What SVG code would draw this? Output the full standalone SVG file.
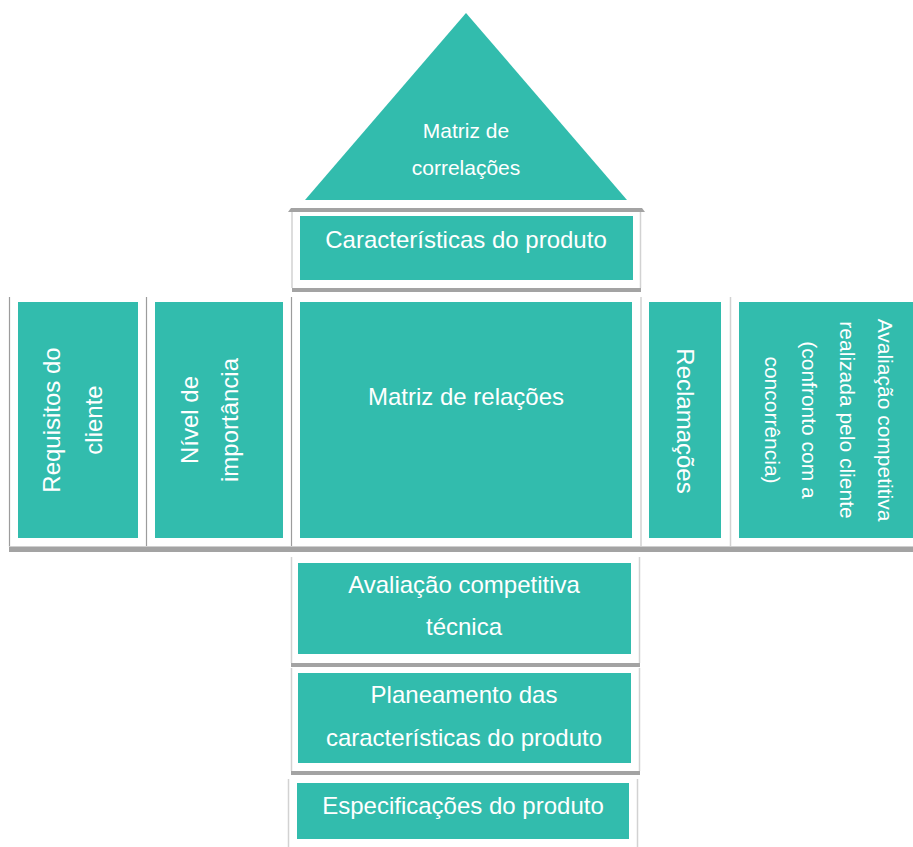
<svg xmlns="http://www.w3.org/2000/svg" width="913" height="847" viewBox="0 0 913 847">
  <style>
    .cell { fill: #32bcad; }
    .lbl { fill: #ffffff; font-family: "Liberation Sans", Arial, sans-serif; font-size: 24px; text-anchor: middle; }
    .sm { font-size: 21px; }
    .band { fill: #a3a3a3; }
    .band-hi { fill: #cfcfcf; }
    .rule { stroke: #9c9c9c; stroke-width: 1.2; fill: none; }
    .rule-lt { stroke: #d2d2d2; stroke-width: 1.5; fill: none; }
  </style>

  <rect width="913" height="847" fill="#ffffff"/>

  <!-- table borders -->
  <g id="borders">
    <!-- roof ledge -->
    <polygon class="band" points="291,208 642,208 645,212 288,212"/>
    <line class="rule-lt" x1="292" y1="212" x2="292" y2="288"/>
    <line class="rule-lt" x1="640.5" y1="212" x2="640.5" y2="288"/>
    <rect class="band" x="292" y="288" width="349" height="4"/>

    <!-- main row -->
    <line class="rule" x1="9.5" y1="297" x2="9.5" y2="547"/>
    <line class="rule" x1="146.5" y1="297" x2="146.5" y2="547"/>
    <line class="rule" x1="291.5" y1="297" x2="291.5" y2="547"/>
    <line class="rule-lt" x1="641" y1="297" x2="641" y2="547"/>
    <line class="rule-lt" x1="730.5" y1="297" x2="730.5" y2="547"/>
    <rect class="band-hi" x="9" y="546" width="904" height="1"/>
    <rect class="band" x="9" y="547" width="904" height="5"/>

    <!-- lower floors -->
    <line class="rule-lt" x1="291.5" y1="557" x2="291.5" y2="663"/>
    <line class="rule-lt" x1="639.5" y1="557" x2="639.5" y2="663"/>
    <rect class="band" x="291" y="663" width="349" height="4"/>
    <line class="rule-lt" x1="291.5" y1="668" x2="291.5" y2="771"/>
    <line class="rule-lt" x1="639.5" y1="668" x2="639.5" y2="771"/>
    <rect class="band" x="291" y="771" width="349" height="4"/>
    <line class="rule-lt" x1="288.5" y1="779" x2="288.5" y2="847"/>
    <line class="rule-lt" x1="637.5" y1="779" x2="637.5" y2="847"/>
  </g>

  <g id="matriz-correlacoes">
    <polygon class="cell" points="466,13 627,200 305,200"/>
    <text class="lbl sm" x="466" y="138">Matriz de</text>
    <text class="lbl sm" x="466" y="175">correlações</text>
  </g>

  <g id="caracteristicas">
    <rect class="cell" x="300" y="216" width="333" height="64"/>
    <text class="lbl" x="466" y="248">Características do produto</text>
  </g>

  <g id="requisitos">
    <rect class="cell" x="18" y="302" width="120" height="236"/>
    <text class="lbl" transform="translate(60,420) rotate(-90)">Requisitos do</text>
    <text class="lbl" transform="translate(102,420) rotate(-90)">cliente</text>
  </g>

  <g id="importancia">
    <rect class="cell" x="155" y="302" width="128" height="236"/>
    <text class="lbl" transform="translate(198,420) rotate(-90)">Nível de</text>
    <text class="lbl" transform="translate(238,420) rotate(-90)">importância</text>
  </g>

  <g id="matriz-relacoes">
    <rect class="cell" x="300" y="302" width="332" height="236"/>
    <text class="lbl" x="466" y="405">Matriz de relações</text>
  </g>

  <g id="reclamacoes">
    <rect class="cell" x="649" y="302" width="72" height="236"/>
    <text class="lbl" transform="translate(677,421) rotate(90)">Reclamações</text>
  </g>

  <g id="avaliacao-cliente">
    <rect class="cell" x="739" y="302" width="174" height="236"/>
    <text class="lbl sm" transform="translate(878,420) rotate(90)">Avaliação competitiva</text>
    <text class="lbl sm" transform="translate(840,420) rotate(90)">realizada pelo cliente</text>
    <text class="lbl sm" transform="translate(802,420) rotate(90)">(confronto com a</text>
    <text class="lbl sm" transform="translate(765,420) rotate(90)">concorrência)</text>
  </g>

  <g id="avaliacao-tecnica">
    <rect class="cell" x="298" y="563" width="333" height="91"/>
    <text class="lbl" x="464" y="593">Avaliação competitiva</text>
    <text class="lbl" x="464" y="635">técnica</text>
  </g>

  <g id="planeamento">
    <rect class="cell" x="298" y="673" width="333" height="90"/>
    <text class="lbl" x="464" y="703">Planeamento das</text>
    <text class="lbl" x="464" y="746">características do produto</text>
  </g>

  <g id="especificacoes">
    <rect class="cell" x="297" y="783" width="332" height="56"/>
    <text class="lbl" x="463" y="814">Especificações do produto</text>
  </g>
</svg>
